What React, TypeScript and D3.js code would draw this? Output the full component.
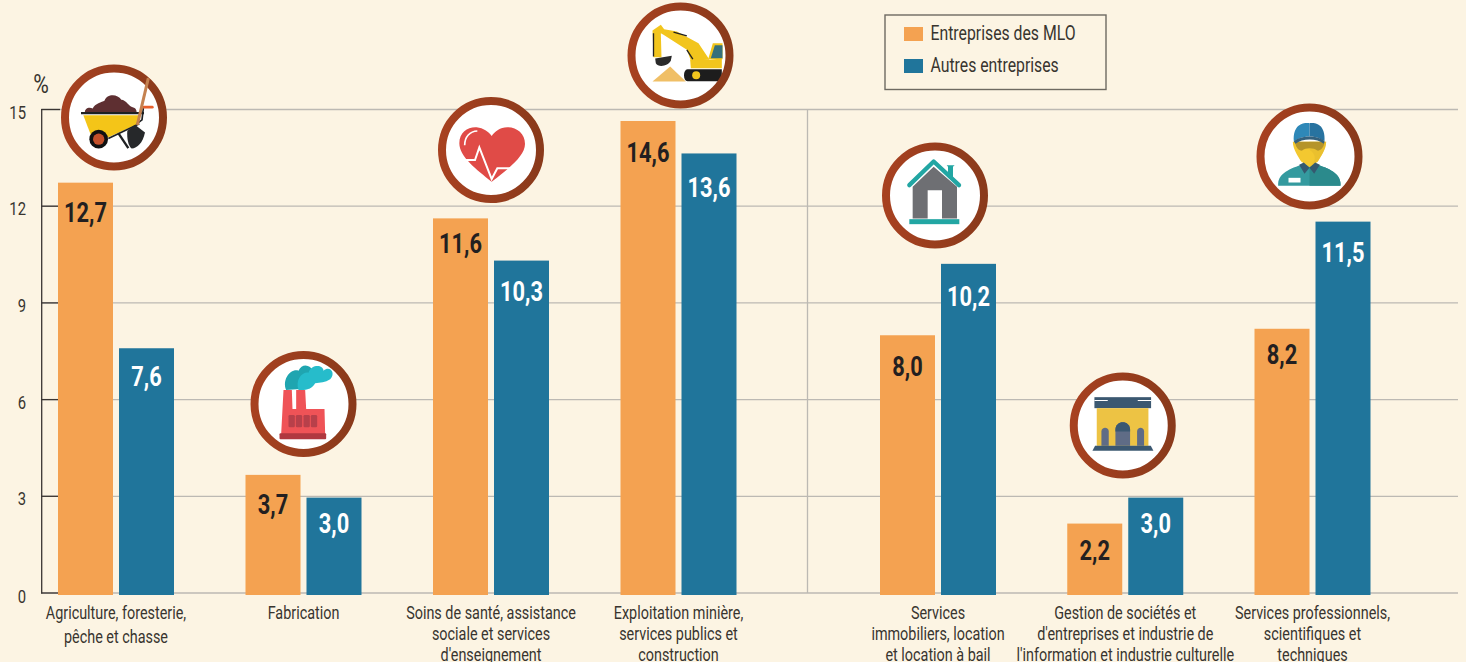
import React from "react";
import * as d3 from "d3";

const leftCategories = ["agri", "fab", "sante", "mine"];
const rightCategories = ["immo", "gestion", "pro"];
const mloValues = [12.7, 3.7, 11.6, 14.6, 8.0, 2.2, 8.2];
const otherValues = [7.6, 3.0, 10.3, 13.6, 10.2, 3.0, 11.5];
const categoryLabels = [
  ["Agriculture, foresterie,", "pêche et chasse"],
  ["Fabrication"],
  ["Soins de santé, assistance", "sociale et services", "d'enseignement"],
  ["Exploitation minière,", "services publics et", "construction"],
  ["Services", "immobiliers, location", "et location à bail"],
  ["Gestion de sociétés et", "d'entreprises et industrie de", "l'information et industrie culturelle"],
  ["Services professionnels,", "scientifiques et", "techniques"],
];
const yTicks = [0, 3, 6, 9, 12, 15];
const seriesNames = ["Entreprises des MLO", "Autres entreprises"];

const mloLabelDy = [39, 39, 35, 41, 41, 36, 35];
const otherLabelDy = [38, 35, 40, 44, 42, 35, 40];

const ORANGE = "#f4a251";
const BLUE = "#20759b";
const BG = "#fcf4e3";
const INK = "#38342f";
const FONT = "Roboto,'Liberation Sans',sans-serif";
const fmt = (v: number) => v.toFixed(1).replace(".", ",");

// Condensed text: the original face is a narrow gothic, so Roboto is squeezed horizontally.
const Narrow = ({ x, y, sx = 0.8, children, ...rest }: any) => (
  <text transform={`translate(${x},${y}) scale(${sx},1)`} {...rest}>{children}</text>
);

const Ring = ({ cx, cy, children, zx, zy, id, over }: any) => {
  const art = <g transform={`scale(${1 / 3}) translate(${-zx},${-zy})`}>{children}</g>;
  return (
    <g transform={`translate(${cx},${cy})`}>
      <clipPath id={id}><circle r={46} /></clipPath>
      <circle r={49} fill="#fff" />
      {!over && <g clipPath={`url(#${id})`}>{art}</g>}
      <circle r={49} fill="none" stroke="url(#ringGrad)" strokeWidth={8} />
      {over && art}
    </g>
  );
};

const Wheelbarrow = () => (
  <g>
    <path d="M255,190 C252,175 268,170 278,176 C285,160 305,158 314,152 C320,132 352,130 364,150 C378,150 388,172 398,172 C410,174 410,185 410,190 Z" fill="#5e2f31" />
    <path d="M250,196 L418,196 L415,222 L325,262 L275,262 Z" fill="#f4c518" />
    <path d="M243,190 L432,190" stroke="#1e2022" strokeWidth={7} />
    <path d="M418,222 L325,266 M430,175 L426,210 L410,222" stroke="#1e2022" strokeWidth={5} fill="none" />
    <path d="M355,250 L385,295" stroke="#1e2022" strokeWidth={7} />
    <path d="M432,172 L457,172" stroke="#e8602c" strokeWidth={8} strokeLinecap="round" />
    <path d="M445,85 L412,225" stroke="#c58250" strokeWidth={9} />
    <path d="M382,243 L405,225 L435,248 C428,280 412,295 395,296 C385,290 380,265 382,243 Z" fill="#26282a" />
    <circle cx={296} cy={268} r={28} fill="#111" />
    <circle cx={296} cy={268} r={17} fill="#c3502a" />
  </g>
);

const Factory = () => (
  <g>
    <path d="M168,150 C155,120 180,85 205,92 C215,70 240,72 250,95 L240,145 Z" fill="#1fa5b0" />
    <path d="M205,150 C195,120 215,95 235,98 C245,70 280,75 280,92 C300,75 318,100 300,118 C285,128 270,128 255,130 C245,148 225,152 205,150 Z" fill="#26bccb" />
    <path d="M160,150 L185,150 L187,207 L198,207 L198,150 L225,150 L228,207 L283,207 L285,282 L153,282 Z" fill="#ef5357" />
    <rect x={148} y={280} width={140} height={18} rx={3} fill="#b03840" />
    {[175, 197, 220, 242].map((x) => (
      <rect key={x} x={x} y={225} width={19} height={37} rx={4} fill="#b8404a" />
    ))}
  </g>
);

const Heart = () => (
  <g>
    <path d="M215,545 C170,510 118,470 118,430 C118,395 145,380 170,382 C190,384 205,395 215,408 C225,395 240,382 262,382 C290,382 315,400 315,432 C315,470 260,510 215,545 Z" fill="#e04b47" />
    <path d="M130,480 L165,480 L178,442 L215,537 L232,505 L280,505" fill="none" stroke="#fff" strokeWidth={6} />
    <path d="M134,436 C134,410 150,394 172,393" fill="none" stroke="#fff" strokeWidth={5} />
  </g>
);

const Excavator = () => (
  <g>
    <path d="M697,245 L750,200 L797,245 Z" fill="#f0bf66" />
    <path d="M864,178 L878,130 L907,130 L907,178 Z" fill="#f2c51d" />
    <path d="M872,175 L884,136 L907,136 L907,175 Z" fill="#35707c" />
    <path d="M812,205 L810,180 L868,180 L905,176 L905,205 Z" fill="#f2c51d" />
    <path d="M697,92 L722,75 L732,88 L770,95 L835,130 L868,180 L812,182 L800,150 L730,105 L722,100 L724,172 L700,172 Z" fill="#f2c51d" />
    <path d="M700,100 L700,170 M760,97 L800,108 M800,150 L818,178" stroke="#222" strokeWidth={4} fill="none" />
    <path d="M705,176 L755,168 L752,182 C745,198 715,205 707,190 Z" fill="#2a2a2a" />
    <path d="M802,208 L905,208 L905,244 L802,244 C788,244 788,208 802,208 Z" fill="#1d1d1d" />
    <circle cx={828} cy={226} r={12} fill="#f2c51d" />
  </g>
);

const House = () => (
  <g>
    <path d="M127,560 L190,500 L260,560 L260,655 L215,655 L215,570 L172,570 L172,655 L127,655 Z" fill="#6e6f73" />
    <path d="M229,495 L253,495 L248,500 L248,535 L233,522 L233,500 Z" fill="#22a6a3" />
    <path d="M117,555 L190,484 L266,555" fill="none" stroke="#22a6a3" strokeWidth={13} strokeLinecap="round" strokeLinejoin="round" />
    <rect x={117} y={657} width={150} height={15} fill="#22a6a3" />
  </g>
);

const Building = () => (
  <g>
    <rect x={103} y={892} width={170} height={33} fill="#3b5871" />
    <path d="M103,902 L143,902 M233,902 L273,902" stroke="#fff" strokeWidth={3} />
    <rect x={110} y={925} width={155} height={113} fill="#edc344" />
    <path d="M124,1038 L124,995 C124,980 146,980 146,995 L146,1038 Z" fill="#5f6c86" />
    <path d="M231,1038 L231,995 C231,980 252,980 252,995 L252,1038 Z" fill="#5f6c86" />
    <path d="M166,1038 L166,990 C166,960 210,960 210,990 L210,1038 Z" fill="#5f6c86" />
    <path d="M166,995 L166,990 C166,960 210,960 210,990 L210,995 Z" fill="#3b5871" />
    <path d="M105,1038 L272,1038 L280,1053 L97,1053 Z" fill="#3b5871" />
  </g>
);

const Worker = () => (
  <g>
    <path d="M653,258 C650,225 680,210 722,195 L772,195 C815,210 842,225 840,258 Z" fill="#349a9f" />
    <path d="M747,195 L772,195 C815,210 842,225 840,258 L747,258 Z" fill="#2b8a8c" />
    <rect x={684} y={234} width={36} height={14} fill="#fff" />
    <path d="M697,126 L797,126 C797,150 778,175 772,185 L747,202 L722,185 C716,175 697,150 697,126 Z" fill="#f3c830" />
    <path d="M747,126 L797,126 C797,150 778,175 772,185 L747,202 C760,190 775,170 747,150 Z" fill="#e2b92e" opacity={0.55} />
    <path d="M704,126 L792,126 C792,140 780,155 770,152 C760,143 735,143 725,152 C715,155 704,140 704,126 Z" fill="#b5942a" />
    <path d="M716,195 L730,188 L747,204 L732,222 Z M778,195 L764,188 L747,204 L761,222 Z" fill="#35596f" />
    <path d="M700,125 C695,60 747,70 747,70 L747,110 C725,110 710,118 700,125 Z" fill="#2e88b8" />
    <path d="M792,125 C797,60 747,70 747,70 L747,110 C770,110 782,118 792,125 Z" fill="#2873a0" />
    <path d="M700,125 C720,105 775,105 792,125 L790,132 C770,115 725,115 705,132 Z" fill="#34617e" />
  </g>
);

const iconSlots = [
  { C: Wheelbarrow, dx: -2, y: 117.5, zx: 342, zy: 203, over: true },
  { C: Factory, dx: 0, y: 404, zx: 220, zy: 192, over: false },
  { C: Heart, dx: 0, y: 150, zx: 213, zy: 450, over: false },
  { C: Excavator, dx: 2, y: 55.5, zx: 781, zy: 167, over: false },
  { C: House, dx: -3, y: 195.5, zx: 194, zy: 586, over: false },
  { C: Building, dx: -2.5, y: 425.5, zx: 188, zy: 977, over: false },
  { C: Worker, dx: -3, y: 156.5, zx: 747, zy: 170, over: false },
];

export default function App() {
  const yGrid = d3.scaleLinear().domain([0, 15]).range([593, 109.5]);
  const yBar = d3.scaleLinear().domain([0, 15]).range([595, 108]);
  const xLeft = d3.scalePoint<string>().domain(leftCategories).range([116, 678.5]);
  const xRight = d3.scalePoint<string>().domain(rightCategories).range([938, 1312.5]);
  const centers = [
    ...leftCategories.map((c) => xLeft(c) as number),
    ...rightCategories.map((c) => xRight(c) as number),
  ];
  const barW = 55;
  const gap = 6;
  const bottom = yBar(0);

  return (
    <>
      <style>{`html,body{margin:0;padding:0;overflow:hidden;background:${BG}}`}</style>
      <svg width={1466} height={662} style={{ display: "block", fontFamily: FONT }}>
        <defs>
          <linearGradient id="ringGrad" x1="0" x2="1" y1="0" y2="0">
            <stop offset="0" stopColor="#a74120" />
            <stop offset="1" stopColor="#8a3a1b" />
          </linearGradient>
        </defs>
        <rect width={1466} height={662} fill={BG} />

        {yTicks.map((t) => (
          <g key={t}>
            <line x1={42} x2={1458} y1={yGrid(t)} y2={yGrid(t)} stroke="#bcb9b3" strokeWidth={1.3} />
            <line x1={41} x2={60} y1={yGrid(t)} y2={yGrid(t)} stroke="#3a3533" strokeWidth={1.3} />
            <Narrow x={26} y={yGrid(t) + (t === 0 ? 10 : 9)} textAnchor="end" fontSize={18.5} fill={INK}>
              {t}
            </Narrow>
          </g>
        ))}
        <line x1={807.5} x2={807.5} y1={yGrid(15)} y2={yGrid(0)} stroke="#bcb9b3" strokeWidth={1.3} />
        <line x1={41.7} x2={41.7} y1={yGrid(15) - 0.5} y2={yGrid(0) + 0.5} stroke="#3a3533" strokeWidth={1.3} />
        <Narrow x={41} y={93} sx={0.85} textAnchor="middle" fontSize={25} fill={INK}>%</Narrow>

        {centers.map((c, i) => (
          <g key={i}>
            <rect x={c - gap / 2 - barW} y={yBar(mloValues[i])} width={barW} height={bottom - yBar(mloValues[i])} fill={ORANGE} />
            <rect x={c + gap / 2} y={yBar(otherValues[i])} width={barW} height={bottom - yBar(otherValues[i])} fill={BLUE} />
            <Narrow x={c - gap / 2 - barW / 2} y={yBar(mloValues[i]) + mloLabelDy[i]} sx={0.78} textAnchor="middle" fontSize={28} fontWeight={700} fill="#231f20">
              {fmt(mloValues[i])}
            </Narrow>
            <Narrow x={c + gap / 2 + barW / 2} y={yBar(otherValues[i]) + otherLabelDy[i]} sx={0.78} textAnchor="middle" fontSize={28} fontWeight={700} fill="#fff">
              {fmt(otherValues[i])}
            </Narrow>
            {categoryLabels[i].map((line, k) => (
              <Narrow key={k} x={c} y={619 + k * (i === 0 ? 24 : 21)} textAnchor="middle" fontSize={18} fill={INK}>
                {line}
              </Narrow>
            ))}
          </g>
        ))}

        {iconSlots.map(({ C, dx, y: cy, zx, zy, over }, i) => (
          <Ring key={i} id={`clip${i}`} cx={centers[i] + dx} cy={cy} zx={zx} zy={zy} over={over}>
            <C />
          </Ring>
        ))}

        <rect x={885} y={15} width={221} height={74.5} fill="none" stroke="#6e6a62" strokeWidth={1.4} />
        {seriesNames.map((name, i) => (
          <g key={name}>
            <rect x={904} y={27 + i * 32} width={19} height={14} fill={i === 0 ? ORANGE : BLUE} />
            <Narrow x={930.5} y={40 + i * 32} sx={0.81} fontSize={19.5} fill={INK}>{name}</Narrow>
          </g>
        ))}
      </svg>
    </>
  );
}
